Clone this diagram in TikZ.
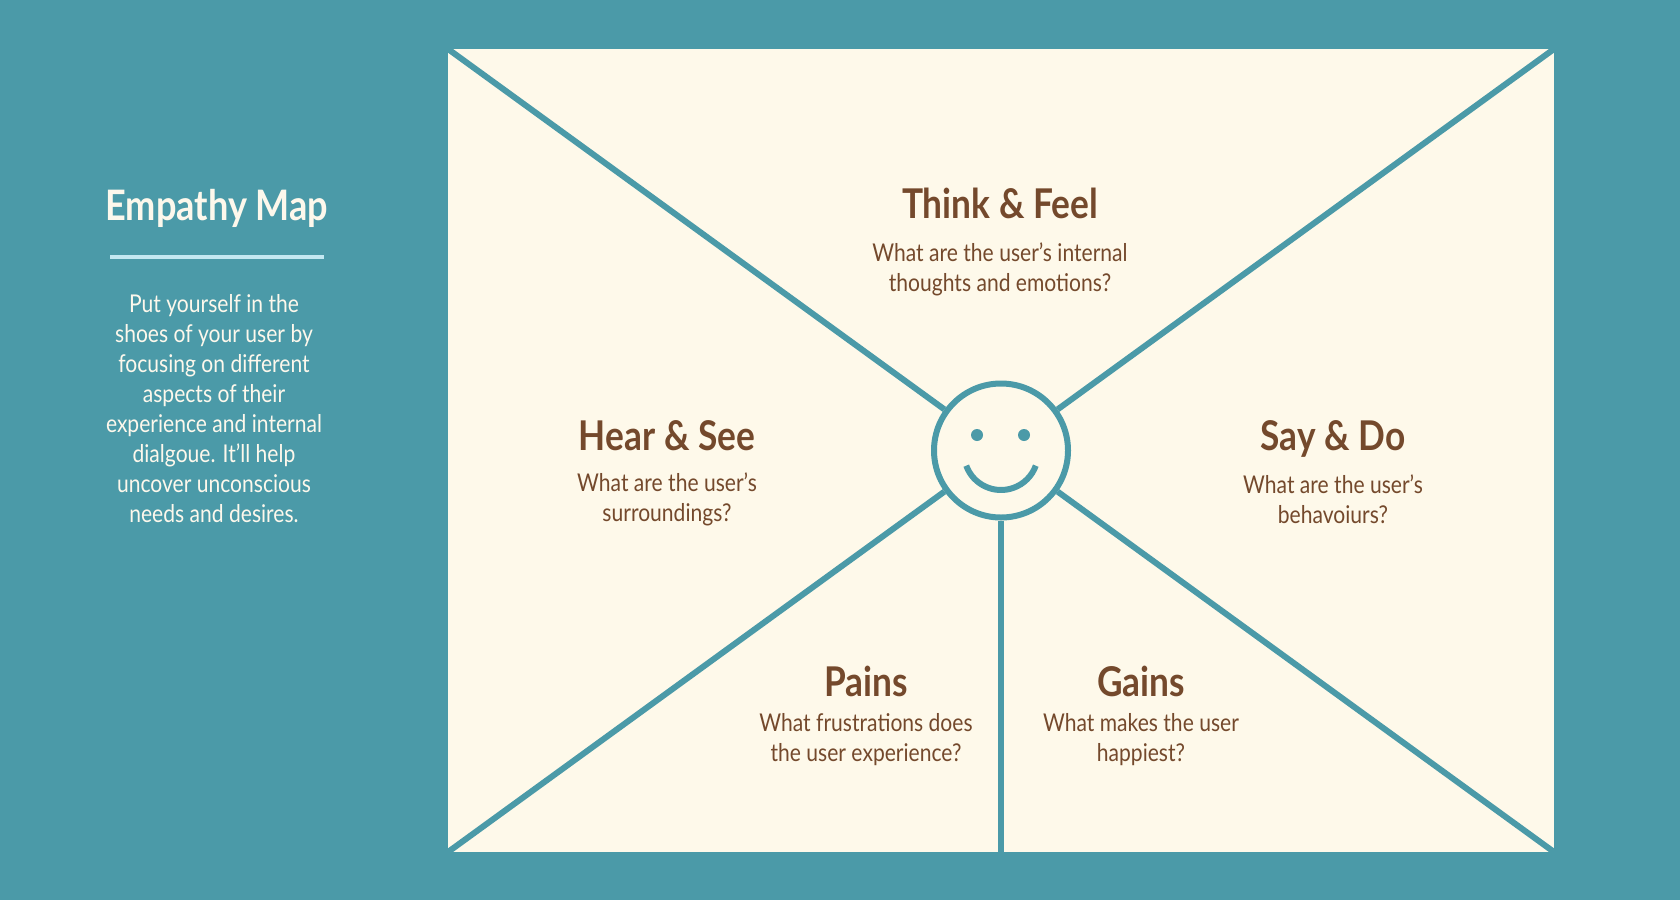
\documentclass[tikz,border=0pt]{standalone}
\usepackage{fontspec}
\setmainfont{Lato}[FakeStretch=0.86]
\usepackage{tikz}
\usepackage{xcolor}
\definecolor{fundo}{HTML}{4B9AA8}
\definecolor{papel}{HTML}{FEF9EA}
\definecolor{marrom}{HTML}{74492C}
\definecolor{azulclaro}{HTML}{C3E8F1}
\definecolor{claro}{HTML}{FDF8EC}
\tikzset{
  titulo/.style={font=\bfseries\fontsize{41}{44}\selectfont, text=marrom, anchor=base},
  pergunta/.style={font=\fontsize{24.5}{30}\selectfont, text=marrom, align=center},
  linha/.style={draw=fundo, line width=6pt},
}

\begin{document}
\begin{tikzpicture}[x=1pt,y=-1pt]
    % Fundo
    \fill[fundo] (0,0) rectangle (1680,900);
    \useasboundingbox (0,0) rectangle (1680,900);
    % Quadro
    \fill[papel] (448,49) rectangle (1554,852);
    \coordinate (se) at (448,49);
    \coordinate (sd) at (1554,49);
    \coordinate (ie) at (448,852);
    \coordinate (id) at (1554,852);
    \coordinate (im) at (1001,852);
    % Rosto
    \node[linha, circle, fill=papel, minimum size=134pt, inner sep=0pt] (rosto) at (1001,450.5) {};
    \fill[fundo] (977,435) circle (6pt);
    \fill[fundo] (1024,435) circle (6pt);
    \draw[linha] ([shift={(200:37pt)}]1001,453) arc[start angle=200, end angle=340, radius=37pt];
    % Linhas
    \draw[linha] (rosto) -- (se);
    \draw[linha] (rosto) -- (sd);
    \draw[linha] (rosto) -- (ie);
    \draw[linha] (rosto) -- (id);
    \draw[linha] (rosto) -- (im);
    % Painel da esquerda
    \node[font=\bfseries\fontsize{42}{44}\selectfont, text=claro, anchor=base] (mapa) at (217,220) {Empathy Map};
    \draw[azulclaro, line width=3.5pt] (110,257) -- (324,257);
    \node[font=\fontsize{24.5}{30}\selectfont, text=claro, align=center] (texto) at (214,409)
        {Put yourself in the\\shoes of your user by\\focusing on different\\aspects of their\\experience and internal\\dialgoue. It’ll help\\uncover unconscious\\needs and desires.};
    % Quadrantes
    \node[titulo] (pensar) at (1000,218) {Think \& Feel};
    \node[pergunta] (pensarq) at (1000,269) {What are the user’s internal\\thoughts and emotions?};
    \node[titulo] (ouvir) at (667,450) {Hear \& See};
    \node[pergunta] (ouvirq) at (667,499) {What are the user’s\\surroundings?};
    \node[titulo] (dizer) at (1333,450) {Say \& Do};
    \node[pergunta] (dizerq) at (1333,499) {What are the user’s\\behavoiurs?};
    \node[titulo] (dores) at (866,696) {Pains};
    \node[pergunta] (doresq) at (866,740) {What frustrations does\\the user experience?};
    \node[titulo] (ganhos) at (1141,696) {Gains};
    \node[pergunta] (ganhosq) at (1141,740) {What makes the user\\happiest?};
\end{tikzpicture}
\end{document}
